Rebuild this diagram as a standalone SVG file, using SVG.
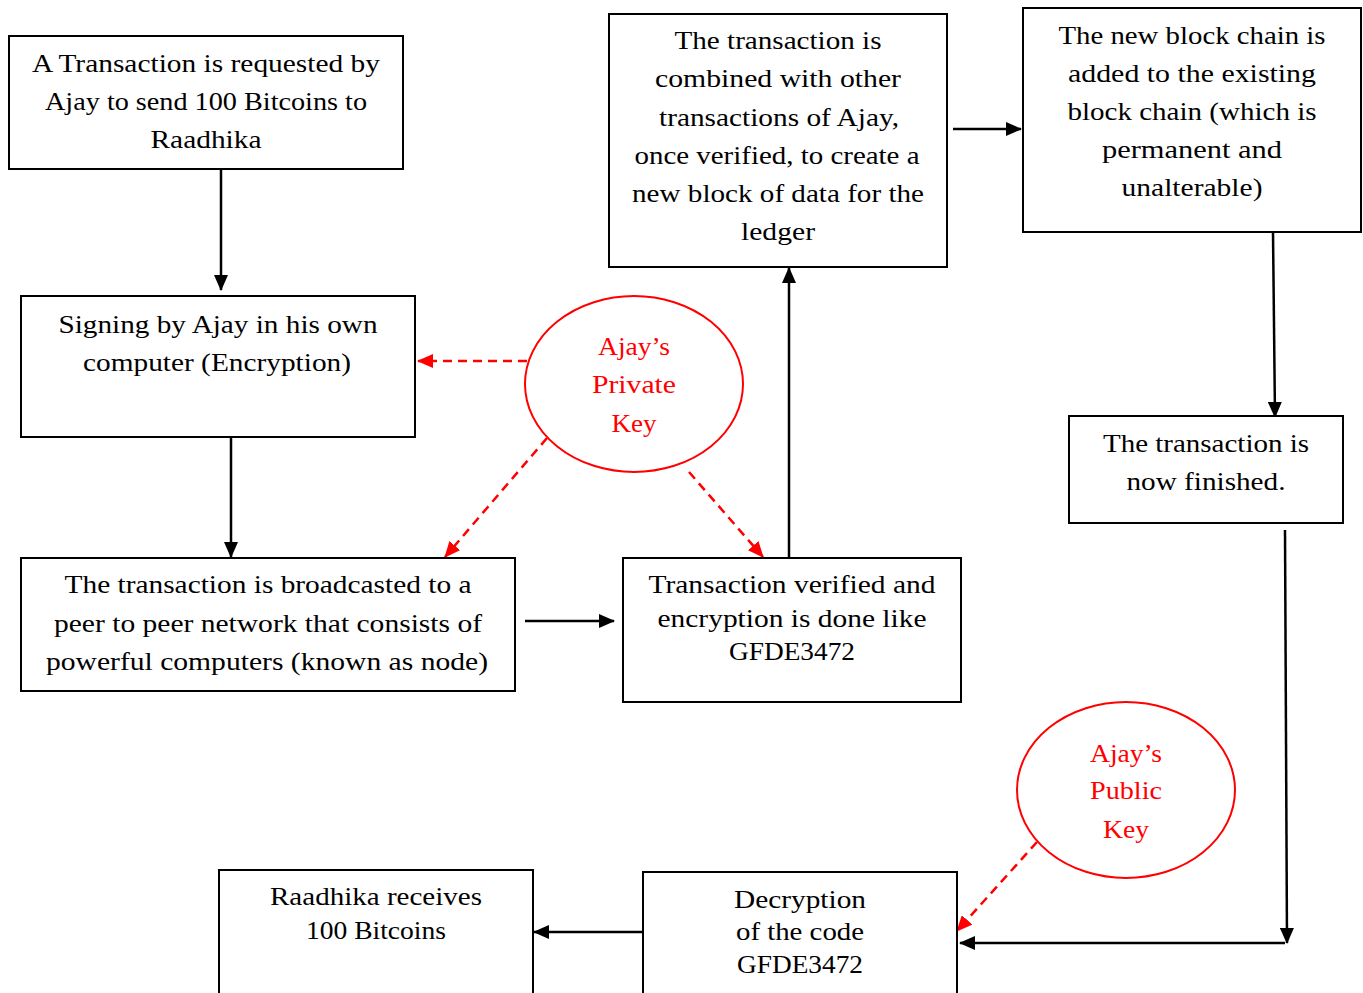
<svg xmlns="http://www.w3.org/2000/svg" width="1363" height="993" viewBox="0 0 1363 993">
<style>
  .box { fill: #ffffff; stroke: #000000; stroke-width: 2; }
  .key { fill: #ffffff; stroke: #ff0000; stroke-width: 2; }
  text { font-family: "Liberation Serif", "DejaVu Serif", serif; font-size: 26px; text-anchor: middle; fill: #000000; }
  .red { fill: #ff0000; }
  .conn { fill: none; stroke: #000000; stroke-width: 2.5; }
  .dash { fill: none; stroke: #ff0000; stroke-width: 2.5; stroke-dasharray: 9 6; }
</style>
<defs>
  <marker id="ah" markerUnits="userSpaceOnUse" markerWidth="16" markerHeight="14" viewBox="0 0 16 14" refX="15" refY="7" orient="auto">
    <path d="M0,0 L16,7 L0,14 Z" fill="#000000"/>
  </marker>
  <marker id="ahr" markerUnits="userSpaceOnUse" markerWidth="16" markerHeight="14" viewBox="0 0 16 14" refX="15" refY="7" orient="auto">
    <path d="M0,0 L16,7 L0,14 Z" fill="#ff0000"/>
  </marker>
</defs>
<rect width="1363" height="993" fill="#ffffff"/>

<g id="connectors">
  <line class="conn" x1="221" y1="169" x2="221" y2="290" marker-end="url(#ah)"/>
  <line class="conn" x1="231" y1="437" x2="231" y2="557" marker-end="url(#ah)"/>
  <line class="conn" x1="525" y1="621" x2="614" y2="621" marker-end="url(#ah)"/>
  <line class="conn" x1="789" y1="557" x2="789" y2="268" marker-end="url(#ah)"/>
  <line class="conn" x1="953" y1="129" x2="1021" y2="129" marker-end="url(#ah)"/>
  <line class="conn" x1="1273" y1="232" x2="1275" y2="417" marker-end="url(#ah)"/>
  <line class="conn" x1="1285" y1="530" x2="1287" y2="943" marker-end="url(#ah)"/>
  <line class="conn" x1="1285" y1="943" x2="960" y2="943" marker-end="url(#ah)"/>
  <line class="conn" x1="643" y1="932" x2="534" y2="932" marker-end="url(#ah)"/>
  <line class="dash" x1="527" y1="361" x2="418" y2="361" marker-end="url(#ahr)"/>
  <line class="dash" x1="547" y1="438" x2="445" y2="557" marker-end="url(#ahr)"/>
  <line class="dash" x1="689" y1="472" x2="763" y2="557" marker-end="url(#ahr)"/>
  <line class="dash" x1="1037" y1="842" x2="957" y2="931" marker-end="url(#ahr)"/>
</g>

<g id="n1">
  <rect class="box" x="9" y="36" width="394" height="133"/>
  <text x="206" y="72" textLength="348" lengthAdjust="spacingAndGlyphs">A Transaction is requested by</text>
  <text x="206" y="110" textLength="322" lengthAdjust="spacingAndGlyphs">Ajay to send 100 Bitcoins to</text>
  <text x="206" y="148" textLength="111" lengthAdjust="spacingAndGlyphs">Raadhika</text>
</g>

<g id="n2">
  <rect class="box" x="21" y="296" width="394" height="141"/>
  <text x="218" y="333" textLength="319" lengthAdjust="spacingAndGlyphs">Signing by Ajay in his own</text>
  <text x="217" y="371" textLength="268" lengthAdjust="spacingAndGlyphs">computer (Encryption)</text>
</g>

<g id="n3">
  <rect class="box" x="21" y="558" width="494" height="133"/>
  <text x="268" y="593" textLength="407" lengthAdjust="spacingAndGlyphs">The transaction is broadcasted to a</text>
  <text x="268" y="632" textLength="428" lengthAdjust="spacingAndGlyphs">peer to peer network that consists of</text>
  <text x="267" y="670" textLength="442" lengthAdjust="spacingAndGlyphs">powerful computers (known as node)</text>
</g>

<g id="n4">
  <rect class="box" x="623" y="558" width="338" height="144"/>
  <text x="792" y="593" textLength="287" lengthAdjust="spacingAndGlyphs">Transaction verified and</text>
  <text x="792" y="627" textLength="269" lengthAdjust="spacingAndGlyphs">encryption is done like</text>
  <text x="792" y="660" textLength="126" lengthAdjust="spacingAndGlyphs">GFDE3472</text>
</g>

<g id="n5">
  <rect class="box" x="609" y="14" width="338" height="253"/>
  <text x="778" y="49" textLength="207" lengthAdjust="spacingAndGlyphs">The transaction is</text>
  <text x="778" y="87" textLength="246" lengthAdjust="spacingAndGlyphs">combined with other</text>
  <text x="779" y="126" textLength="240" lengthAdjust="spacingAndGlyphs">transactions of Ajay,</text>
  <text x="777" y="164" textLength="285" lengthAdjust="spacingAndGlyphs">once verified, to create a</text>
  <text x="778" y="202" textLength="292" lengthAdjust="spacingAndGlyphs">new block of data for the</text>
  <text x="778" y="240" textLength="74" lengthAdjust="spacingAndGlyphs">ledger</text>
</g>

<g id="n6">
  <rect class="box" x="1023" y="8" width="338" height="224"/>
  <text x="1192" y="44" textLength="267" lengthAdjust="spacingAndGlyphs">The new block chain is</text>
  <text x="1192" y="82" textLength="248" lengthAdjust="spacingAndGlyphs">added to the existing</text>
  <text x="1192" y="120" textLength="249" lengthAdjust="spacingAndGlyphs">block chain (which is</text>
  <text x="1192" y="158" textLength="180" lengthAdjust="spacingAndGlyphs">permanent and</text>
  <text x="1192" y="196" textLength="141" lengthAdjust="spacingAndGlyphs">unalterable)</text>
</g>

<g id="n7">
  <rect class="box" x="1069" y="416" width="274" height="107"/>
  <text x="1206" y="452" textLength="206" lengthAdjust="spacingAndGlyphs">The transaction is</text>
  <text x="1206" y="490" textLength="159" lengthAdjust="spacingAndGlyphs">now finished.</text>
</g>

<g id="n8">
  <rect class="box" x="643" y="872" width="314" height="140"/>
  <text x="800" y="908" textLength="132" lengthAdjust="spacingAndGlyphs">Decryption</text>
  <text x="800" y="940" textLength="128" lengthAdjust="spacingAndGlyphs">of the code</text>
  <text x="800" y="973" textLength="126" lengthAdjust="spacingAndGlyphs">GFDE3472</text>
</g>

<g id="n9">
  <rect class="box" x="219" y="870" width="314" height="140"/>
  <text x="376" y="905" textLength="212" lengthAdjust="spacingAndGlyphs">Raadhika receives</text>
  <text x="376" y="939" textLength="140" lengthAdjust="spacingAndGlyphs">100 Bitcoins</text>
</g>

<g id="privateKey">
  <ellipse class="key" cx="634" cy="384" rx="109" ry="88"/>
  <text class="red" x="634" y="355" textLength="72" lengthAdjust="spacingAndGlyphs">Ajay’s</text>
  <text class="red" x="634" y="393" textLength="84" lengthAdjust="spacingAndGlyphs">Private</text>
  <text class="red" x="634" y="432" textLength="45" lengthAdjust="spacingAndGlyphs">Key</text>
</g>

<g id="publicKey">
  <ellipse class="key" cx="1126" cy="790" rx="109" ry="88"/>
  <text class="red" x="1126" y="762" textLength="72" lengthAdjust="spacingAndGlyphs">Ajay’s</text>
  <text class="red" x="1126" y="799" textLength="72" lengthAdjust="spacingAndGlyphs">Public</text>
  <text class="red" x="1126" y="838" textLength="46" lengthAdjust="spacingAndGlyphs">Key</text>
</g>
</svg>
